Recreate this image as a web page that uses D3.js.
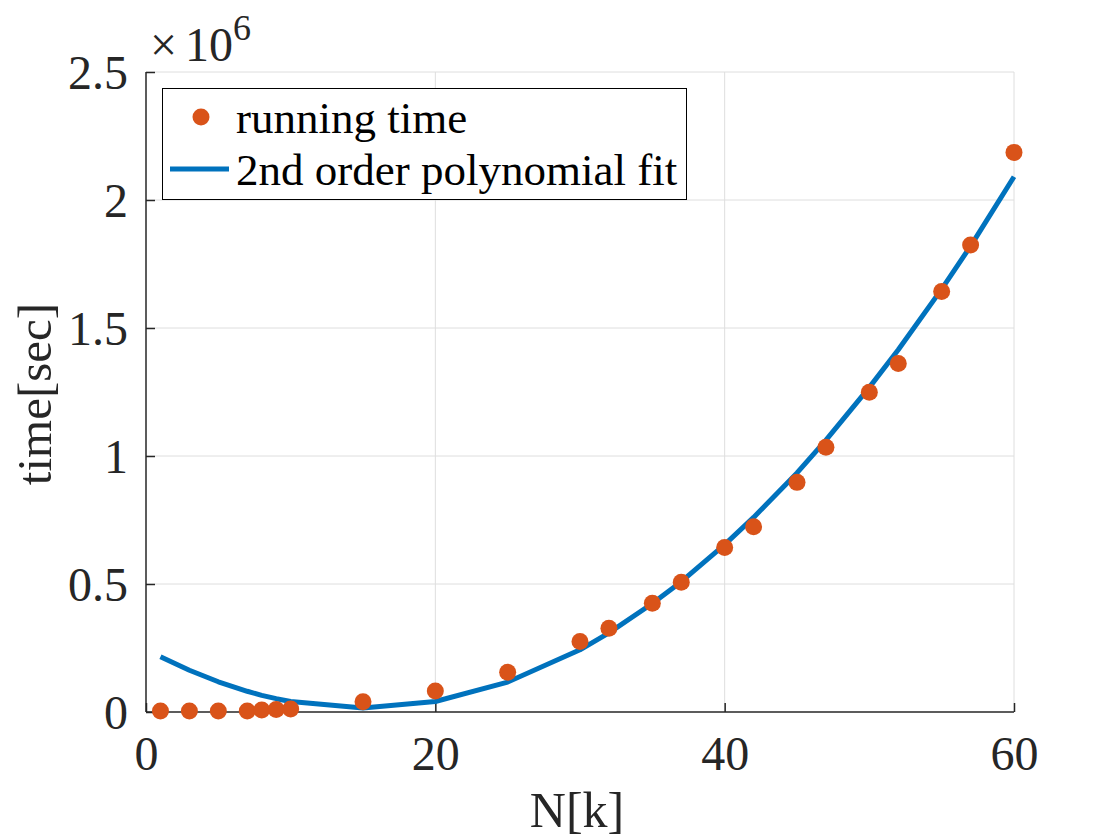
<!DOCTYPE html>
<html>
<head>
<meta charset="utf-8">
<script src="https://cdn.jsdelivr.net/npm/d3@7"></script>
<style>
  html, body { margin: 0; padding: 0; background: #fff; }
  svg { display: block; font-family: "Liberation Serif", "Times New Roman", serif; }
</style>
</head>
<body>
<svg id="chart" width="1120" height="840"></svg>
<script>
// ---- data (values in units of 1e6 seconds) ----
const nValues = [1, 3, 5, 7, 8, 9, 10, 15, 20, 25, 30, 32, 35, 37, 40, 42, 45, 47, 50, 52, 55, 57, 60];
const runningTime = [0.004, 0.004, 0.004, 0.004, 0.008, 0.010, 0.012, 0.040, 0.082, 0.155, 0.275, 0.327,
                     0.425, 0.507, 0.643, 0.724, 0.897, 1.034, 1.249, 1.361, 1.643, 1.824, 2.186];
const fitValues = [0.216, 0.163, 0.118, 0.081, 0.065, 0.052, 0.041, 0.016, 0.041, 0.117, 0.243, 0.309,
                   0.424, 0.509, 0.654, 0.760, 0.934, 1.062, 1.268, 1.415, 1.652, 1.820, 2.091];
const xTicks = [0, 20, 40, 60];
const yTicks = [0, 0.5, 1, 1.5, 2, 2.5];
const legendLabels = ["running time", "2nd order polynomial fit"];

const orange = "#D95319", blue = "#0072BD", axisColor = "#262626", gridColor = "#dedede";

const svg = d3.select("#chart");
const x = d3.scaleLinear().domain([0, 60]).range([146, 1014]);
const y = d3.scaleLinear().domain([0, 2.5]).range([712, 72]);

// grid
const grid = svg.append("g");
grid.selectAll("line.vx").data(xTicks.filter(d => d !== 0)).join("line")
  .attr("x1", d => x(d)).attr("x2", d => x(d)).attr("y1", y(0)).attr("y2", y(2.5))
  .attr("stroke", gridColor).attr("stroke-width", 1);
grid.selectAll("line.hy").data(yTicks.filter(d => d !== 0)).join("line")
  .attr("x1", x(0)).attr("x2", x(60)).attr("y1", d => y(d)).attr("y2", d => y(d))
  .attr("stroke", gridColor).attr("stroke-width", 1);

// axes
const xAxis = d3.axisBottom(x).tickValues(xTicks).tickSize(-9).tickPadding(24).tickFormat(d3.format("d"));
const yAxis = d3.axisLeft(y).tickValues(yTicks).tickSize(-9).tickPadding(18).tickFormat(d => String(d));

const gx = svg.append("g").attr("transform", `translate(0,${y(0)})`).call(xAxis);
const gy = svg.append("g").attr("transform", `translate(${x(0)},0)`).call(yAxis);
[gx, gy].forEach(g => {
  g.select(".domain").attr("stroke", axisColor).attr("stroke-width", 1.5);
  g.selectAll(".tick line").attr("stroke", axisColor).attr("stroke-width", 1.5);
  g.selectAll(".tick text").attr("fill", axisColor)
    .style("font-family", "'Liberation Serif', serif").style("font-size", "48px");
});
gx.selectAll(".tick text").attr("dy", "0.71em");
gy.selectAll(".tick text").attr("dy", "0.34em");
gx.select(".domain").attr("d", `M${x(0)},0H${x(60)}`);
gy.select(".domain").attr("d", `M0,${y(0)}V${y(2.5)}`);

// exponent label
const expo = svg.append("text").attr("x", 150).attr("y", 61).attr("fill", axisColor)
  .style("font-size", "48px");
expo.append("tspan").text("×");
expo.append("tspan").attr("dx", 8).text("10");
expo.append("tspan").attr("font-size", "36px").attr("dy", -21).text("6");

// axis labels
svg.append("text").attr("x", 577).attr("y", 827).attr("text-anchor", "middle")
  .attr("fill", axisColor).style("font-size", "50px").text("N[k]");
svg.append("text").attr("transform", "translate(51,394) rotate(-90)").attr("text-anchor", "middle")
  .attr("fill", axisColor).style("font-size", "49px").text("time[sec]");

// fit line
const line = d3.line().x((d, i) => x(nValues[i])).y(d => y(d));
svg.append("path").datum(fitValues).attr("d", line)
  .attr("fill", "none").attr("stroke", blue).attr("stroke-width", 5).attr("stroke-linejoin", "round");

// markers
svg.append("g").selectAll("circle").data(runningTime).join("circle")
  .attr("cx", (d, i) => x(nValues[i])).attr("cy", d => y(d)).attr("r", 8.5).attr("fill", orange);

// legend
const lg = svg.append("g");
lg.append("rect").attr("x", 162.5).attr("y", 88.5).attr("width", 524).attr("height", 111)
  .attr("fill", "#fff").attr("stroke", "#000").attr("stroke-width", 1);
lg.append("circle").attr("cx", 201).attr("cy", 117).attr("r", 8.5).attr("fill", orange);
lg.append("line").attr("x1", 170).attr("x2", 229).attr("y1", 169).attr("y2", 169)
  .attr("stroke", blue).attr("stroke-width", 5);
lg.selectAll("text").data(legendLabels).join("text")
  .attr("x", 236).attr("y", (d, i) => 133 + i * 52)
  .attr("fill", "#000").style("font-size", "45px").text(d => d);
</script>
</body>
</html>
